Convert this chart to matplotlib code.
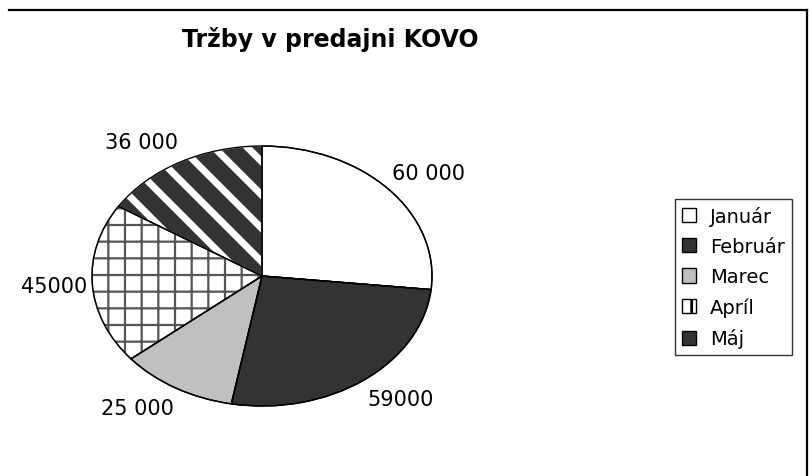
import numpy as np
import matplotlib
matplotlib.use('Agg')
import matplotlib.pyplot as plt
from matplotlib.lines import Line2D
from matplotlib.patches import Patch

months = ['Január', 'Február', 'Marec', 'Apríl', 'Máj']
sales = [60000, 59000, 25000, 45000, 36000]
value_labels = ['60 000', '59000', '25 000', '45000', '36 000']
title = 'Tržby v predajni KOVO'

face_colors = ['white', '#333333', '#c0c0c0', 'white', '#333333']
# hatch pattern, hatch colour, hatch width (pt) per wedge
hatches = [None, None, None, '+', '\\']
hatch_colors = [None, None, None, '#555555', 'white']
hatch_widths = [None, None, None, 1.6, 5.0]

plt.rcParams['font.family'] = ['DejaVu Sans']
plt.rcParams['hatch.linewidth'] = 2.0

W, H = 811, 477
fig = plt.figure(figsize=(W / 100, H / 100), dpi=100)

# pie box: 340 x 260 px, centre at (262, 277)
ax = fig.add_axes([92 / W, 70 / H, 340 / W, 260 / H])

wedges, _ = ax.pie(sales, colors=face_colors,
                   startangle=90, counterclock=False,
                   wedgeprops=dict(edgecolor='black', linewidth=1.0))

for w, h, hc, hw in zip(wedges, hatches, hatch_colors, hatch_widths):
    if h is None:
        continue
    w.set_edgecolor(hc)
    w.set_hatch(h)
    if hasattr(w, 'set_hatch_linewidth'):
        w.set_hatch_linewidth(hw)

# black outline drawn again on top of the hatched wedges
ax.pie(sales, startangle=90, counterclock=False,
       wedgeprops=dict(fill=False, edgecolor='black', linewidth=1.0))

# value labels, placed just outside the rim like Excel does
for w, lab in zip(wedges, value_labels):
    mid = np.deg2rad((w.theta1 + w.theta2) / 2)
    cx, cy = np.cos(mid), np.sin(mid)
    ax.text(1.03 * cx, 1.18 * cy, lab, fontsize=15,
            ha='left' if cx > 0 else 'right', va='center')

ax.set_aspect('auto')
ax.set_xlim(-1, 1)
ax.set_ylim(-1, 1)

fig.text(330 / W, 1 - 40 / H, title, ha='center', va='center',
         fontsize=17, fontweight='bold')

handles = [
    Patch(facecolor='white', edgecolor='black'),
    Patch(facecolor='#333333', edgecolor='black'),
    Patch(facecolor='#c0c0c0', edgecolor='black'),
    Patch(facecolor='white', edgecolor='black', hatch='|'),
    Patch(facecolor='#333333', edgecolor='black'),
]
leg = fig.legend(handles, months, loc='upper left',
                 bbox_to_anchor=(675 / W, 1 - 200 / H),
                 fontsize=14, frameon=True, fancybox=False, shadow=False,
                 borderaxespad=0, borderpad=0.35, handlelength=0.75,
                 handleheight=0.75, handletextpad=0.7, labelspacing=0.58)
leg.get_frame().set_edgecolor('black')
leg.get_frame().set_linewidth(1.0)

# frame border: top and right edges only
fig.add_artist(Line2D([9 / W, 807 / W], [1 - 11 / H, 1 - 11 / H],
                      transform=fig.transFigure, color='black', linewidth=1.6))
fig.add_artist(Line2D([807 / W, 807 / W], [1 - 11 / H, 0],
                      transform=fig.transFigure, color='black', linewidth=1.6))

fig.savefig('out.png', dpi=100)
